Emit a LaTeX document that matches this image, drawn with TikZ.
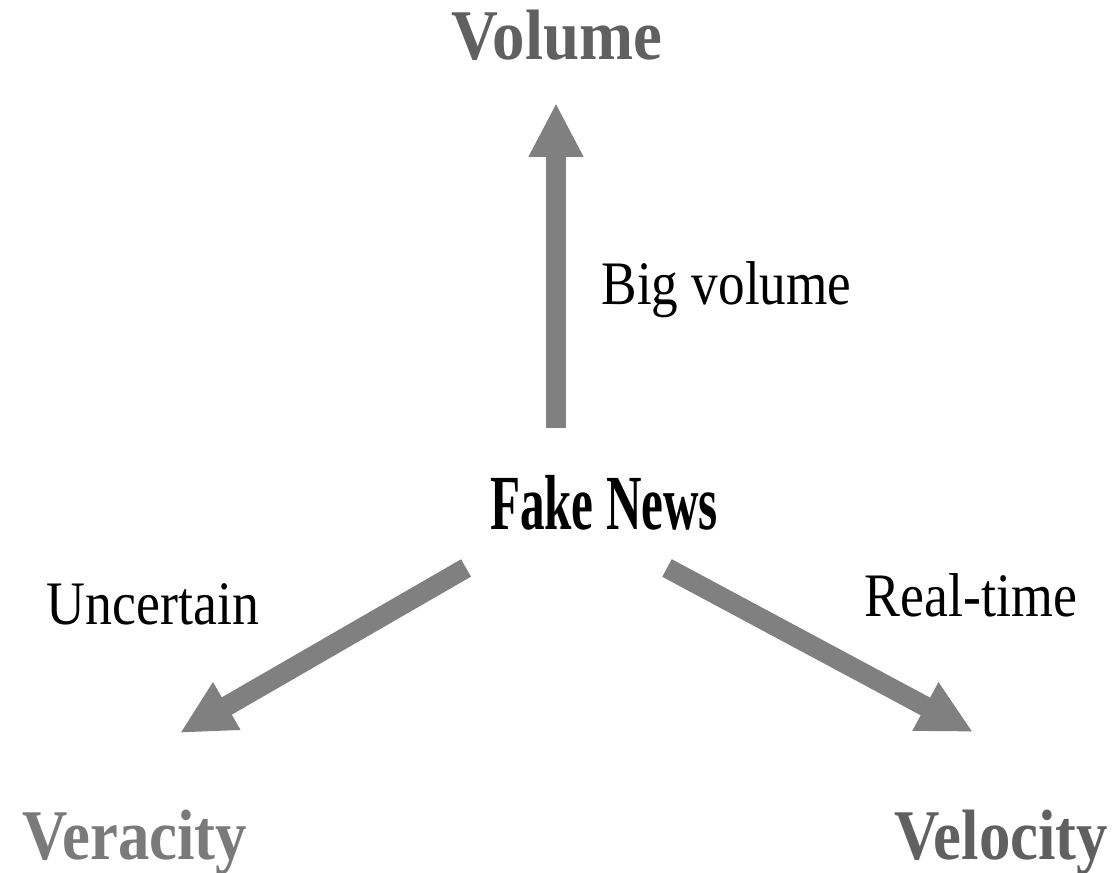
\documentclass[tikz,border=0pt]{standalone}
\usepackage{fontspec}
\setmainfont{Liberation Serif}
\usetikzlibrary{arrows.meta}

\definecolor{vdark}{HTML}{606060}
\definecolor{vlight}{HTML}{7A7A7A}
\definecolor{shaft}{HTML}{808080}

\tikzset{
	vword/.style={inner sep=0pt, anchor=base, font=\fontsize{20.3}{22}\selectfont\bfseries},
	hint/.style={inner sep=0pt, anchor=base, font=\fontsize{17.6}{20}\selectfont},
	bigarrow/.style={draw=shaft, line width=0.2cm, -{Triangle[length=0.54cm, width=0.51cm, fill=shaft]}}
}

\begin{document}
\begin{tikzpicture}
	
	\useasboundingbox (0,0) rectangle (11.19,8.73);
	
	\node[inner sep=0pt, anchor=base, font=\fontsize{22.2}{24}\selectfont\bfseries] (fn) at (6.04, 3.43) {\scalebox{0.63}[1]{Fake News}};
	
	\node[vword, text=vdark]  (vol) at (5.57, 8.13)  {\scalebox{0.91}[1]{Volume}};
	\node[vword, text=vlight] (ver) at (1.35, 0.13)  {\scalebox{0.88}[1]{Veracity}};
	\node[vword, text=vdark]  (vel) at (10.01, 0.13) {\scalebox{0.88}[1]{Velocity}};
	
	\node[hint, anchor=base west] (big)  at (6.01, 5.68) {\scalebox{0.86}[1]{Big volume}};
	\node[hint] (unc)  at (1.53, 2.48) {\scalebox{0.87}[1]{Uncertain}};
	\node[hint] (real) at (9.71, 2.56) {\scalebox{0.87}[1]{Real-time}};
	
	\coordinate (s1) at (5.56, 4.45);
	\coordinate (t1) at (5.56, 7.70);
	\coordinate (s2) at (4.66, 3.05);
	\coordinate (t2) at (1.80, 1.40);
	\coordinate (s3) at (6.67, 3.05);
	\coordinate (t3) at (9.73, 1.41);
	
	\draw[bigarrow] (s1) -- (t1);
	\draw[bigarrow] (s2) -- (t2);
	\draw[bigarrow] (s3) -- (t3);
	
\end{tikzpicture}
\end{document}
